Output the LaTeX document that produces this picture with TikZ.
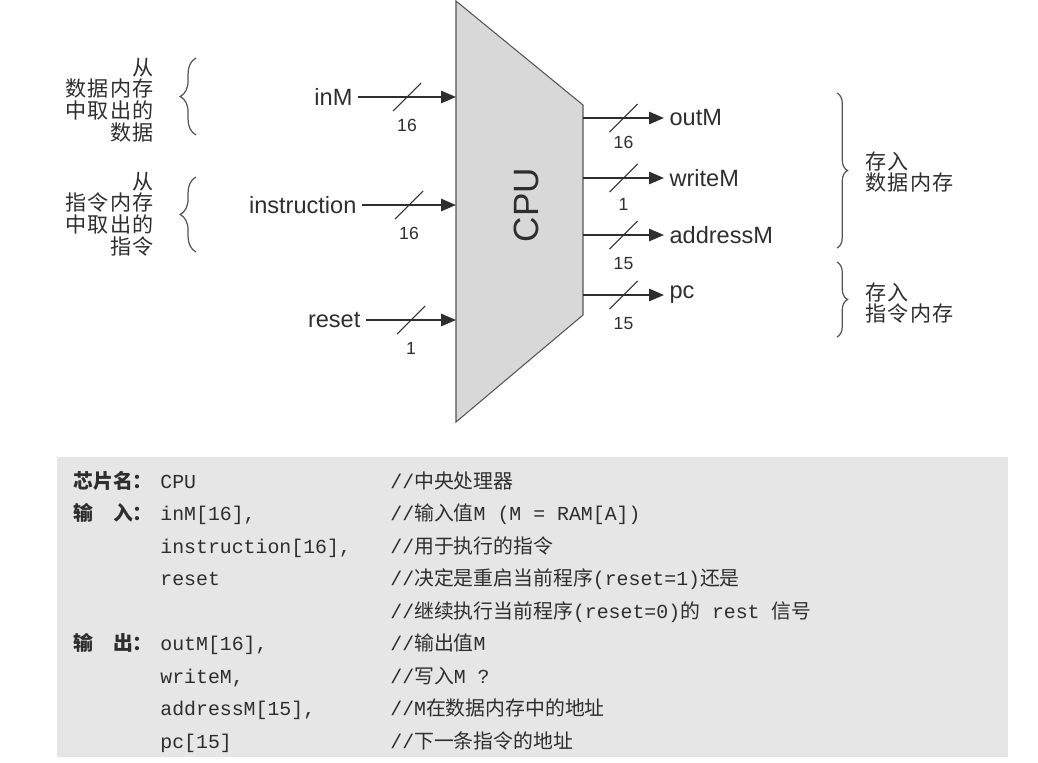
\documentclass[tikz,border=0pt]{standalone}
\usepackage{fontspec}
\setmainfont{Liberation Sans}
\setmonofont{Liberation Mono}
\newfontfamily\cjk{Noto Sans CJK SC}
\newfontfamily\cjkwide{Noto Sans CJK SC}[LetterSpace=6]
\usetikzlibrary{arrows.meta, positioning, decorations.pathreplacing, decorations.markings}
\definecolor{inkGray}{HTML}{2E2E2E}
\definecolor{cpuGray}{HTML}{D8D8D8}
\definecolor{edgeGray}{HTML}{555555}
\definecolor{paperGray}{HTML}{E6E6E6}
\newcommand{\zh}[1]{{\cjk #1}}

\begin{document}
\begin{tikzpicture}[x=0.02cm, y=-0.02cm,
port/.style={font=\fontsize{13.4}{16}\selectfont, text=inkGray, inner xsep=3pt, inner ysep=1pt},
bits/.style={font=\fontsize{10}{12}\selectfont, text=inkGray, inner sep=1pt},
note/.style={font=\cjkwide\fontsize{12}{12.3}\selectfont, text=inkGray, inner sep=0pt},
bus/.style={-{Triangle[length=8.5pt, width=7pt]}, line width=1.1pt, inkGray,
  postaction={decorate},
  decoration={markings, mark=at position 0.5 with {\draw[-, line width=0.6pt] (-8pt,-8pt) -- (8pt,8pt);}}},
curly/.style={decorate, decoration={brace, amplitude=#1}, line width=0.7pt, edgeGray},
head/.style={font=\cjk\bfseries\fontsize{11.3}{13}\selectfont, text=inkGray, anchor=base west, inner sep=0pt},
code/.style={font=\ttfamily\fontsize{11.3}{13}\selectfont, text=inkGray, anchor=base west, inner sep=0pt}
]
\useasboundingbox (0,0) rectangle (1038,762);

% the chip
\draw[fill=cpuGray, draw=edgeGray, line width=0.6pt] (456,1) -- (583,105) -- (583,315) -- (456,422) -- cycle;
\node[rotate=90, font=\fontsize{20}{24}\selectfont, text=inkGray] (cpu) at (526,205) {CPU};

\coordinate (cinM) at (456,97);
\coordinate (cinstr) at (456,205);
\coordinate (creset) at (456,320);
\coordinate (coutM) at (583,118);
\coordinate (cwriteM) at (583,178);
\coordinate (caddrM) at (583,235);
\coordinate (cpc) at (583,295);

% inputs
\node[port, anchor=east] (inM) at (358,97) {inM};
\node[port, anchor=east] (instr) at (362,205) {instruction};
\node[port, anchor=east] (reset) at (366,320) {reset};

\draw[bus] (inM.east) -- (cinM) node[bits, midway, below=11pt] {16};
\draw[bus] (instr.east) -- (cinstr) node[bits, midway, below=11pt] {16};
\draw[bus] (reset.east) -- (creset) node[bits, midway, below=11pt] {1};

% outputs
\node[port, anchor=west] (outM) at (664,118) {outM};
\node[port, anchor=west] (writeM) at (664,178) {writeM};
\node[port, anchor=west] (addrM) at (664,235) {addressM};
\node[port, anchor=west] (pc) at (664,295) {pc};

\draw[bus] (coutM) -- (outM.west) node[bits, midway, below=9pt] {16};
\draw[bus] (cwriteM) -- (writeM.west) node[bits, midway, below=10pt] {1};
\draw[bus] (caddrM) -- (addrM.west) node[bits, midway, below=11pt] {15};
\draw[bus] (cpc) -- (pc.west) node[bits, midway, below=11pt] {15};

% where the data come from / go to
\node[note, anchor=east, align=right] (fromData) at (154,100) {从\\数据内存\\中取出的\\数据};
\node[note, anchor=east, align=right] (fromInstr) at (154,214) {从\\指令内存\\中取出的\\指令};
\node[note, anchor=west, align=left] (toData) at (865,172) {存入\\数据内存};
\node[note, anchor=west, align=left] (toInstr) at (865,303) {存入\\指令内存};

\draw[curly=9pt] (196,135) -- (196,58);
\draw[curly=9pt] (196,252) -- (196,177);
\draw[curly=6pt] (837,93) -- (837,248);
\draw[curly=6pt] (837,262) -- (837,337);

% interface listing
\fill[paperGray] (57,457) rectangle (1008,757);

\node[head] (hName) at (73,488) {芯片名：};
\node[head] (hIn) at (73,520.5) {输\quad 入：};
\node[head] (hOut) at (73,650.5) {输\quad 出：};

\node[code] (sName) at (160,488) {CPU};
\node[code] (sInM) at (160,520.5) {inM[16],};
\node[code] (sInstr) at (160,553) {instruction[16],};
\node[code] (sReset) at (160,585.5) {reset};
\node[code] (sOutM) at (160,650.5) {outM[16],};
\node[code] (sWriteM) at (160,683) {writeM,};
\node[code] (sAddrM) at (160,715.5) {addressM[15],};
\node[code] (sPc) at (160,748) {pc[15]};

\node[code] (cName) at (390,488) {//\zh{中央处理器}};
\node[code] (cInM) at (390,520.5) {//\zh{输入值}M (M = RAM[A])};
\node[code] (cInstr) at (390,553) {//\zh{用于执行的指令}};
\node[code] (cReset) at (390,585.5) {//\zh{决定是重启当前程序}(reset=1)\zh{还是}};
\node[code] (cReset2) at (390,618) {//\zh{继续执行当前程序}(reset=0)\zh{的} rest \zh{信号}};
\node[code] (cOutM) at (390,650.5) {//\zh{输出值}M};
\node[code] (cWriteM) at (390,683) {//\zh{写入}M ?};
\node[code] (cAddrM) at (390,715.5) {//M\zh{在数据内存中的地址}};
\node[code] (cPc) at (390,748) {//\zh{下一条指令的地址}};
\end{tikzpicture}
\end{document}
